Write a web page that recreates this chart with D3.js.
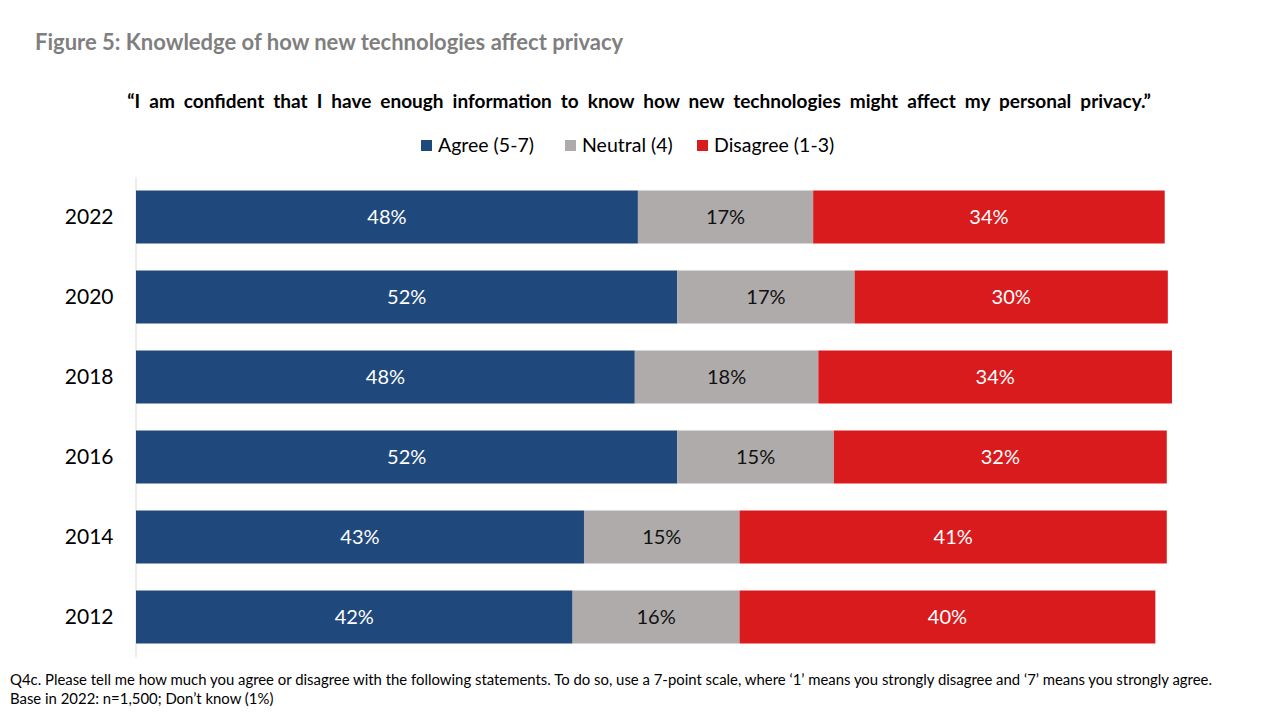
<!DOCTYPE html>
<html>
<head>
<meta charset="utf-8">
<script src="https://cdn.jsdelivr.net/npm/d3@7"></script>
<style>
  body { margin: 0; background: #fff; }
  svg { font-family: Lato, "Open Sans", sans-serif; }
</style>
</head>
<body>
<svg id="chart"></svg>
<script>
// chart data
var years = ["2022", "2020", "2018", "2016", "2014", "2012"];
var series = ["Agree (5-7)", "Neutral (4)", "Disagree (1-3)"];
var agree = [48.4, 52.2, 48.1, 52.2, 43.2, 42.1];
var neutral = [16.9, 17.1, 17.7, 15.1, 15.0, 16.1];
var disagree = [33.9, 30.2, 34.1, 32.1, 41.2, 40.1];
var colors = ["#1f497d", "#aeabaa", "#d91b1e"];
var labelColors = ["#ffffff", "#111111", "#ffffff"];

function init(){
    var width = 1280,
        height = 720;

    var svg = d3.select("svg#chart")
      .attr("width", width)
      .attr("height", height);

    // titles
    svg.append("text")
      .attr("x", 35).attr("y", 50)
      .style("font-size", "22px").style("font-weight", "bold")
      .style("fill", "#7f7f7f")
      .text("Figure 5: Knowledge of how new technologies affect privacy");

    svg.append("text")
      .attr("x", 639).attr("y", 108)
      .attr("text-anchor", "middle")
      .style("font-size", "19px").style("font-weight", "bold")
      .style("word-spacing", "4.4px")
      .style("fill", "#000")
      .text("\u201cI am confident that I have enough information to know how new technologies might affect my personal privacy.\u201d");

    // stack the series
    var rows = years.map(function(y, i){
      return { year: y, s0: agree[i], s1: neutral[i], s2: disagree[i] };
    });
    var stack = d3.stack().keys(["s0", "s1", "s2"]);
    var layers = stack(rows);

    var x = d3.scaleLinear()
      .domain([0, 100])
      .range([136, 1173]);

    var y = d3.scaleBand()
      .domain(years)
      .range([177, 657])
      .paddingInner(0.3375)
      .paddingOuter(0.16875);

    // category axis
    var yAxis = d3.axisLeft(y).tickSize(0).tickPadding(22);
    var ag = svg.append("g")
      .attr("transform", "translate(135.5,0)")
      .call(yAxis);
    ag.select(".domain").attr("stroke", "#d9d9d9");
    ag.selectAll("text")
      .style("font-family", "Lato, sans-serif")
      .style("font-size", "21px")
      .style("fill", "#000");

    var layerG = svg.append("g").selectAll("g")
      .data(layers)
      .enter().append("g")
        .attr("fill", function(d, i){ return colors[i]; });

    layerG.selectAll("rect")
      .data(function(d){ return d; })
      .enter().append("rect")
        .attr("x", function(d){ return x(d[0]); })
        .attr("y", function(d){ return y(d.data.year); })
        .attr("width", function(d){ return x(d[1]) - x(d[0]); })
        .attr("height", y.bandwidth());

    layerG.selectAll("text")
      .data(function(d, i){ return d.map(function(v){ return { v: v, i: i }; }); })
      .enter().append("text")
        .attr("x", function(d){ return (x(d.v[0]) + x(d.v[1])) / 2; })
        .attr("y", function(d){ return y(d.v.data.year) + y.bandwidth() / 2; })
        .attr("dy", "0.36em")
        .attr("text-anchor", "middle")
        .style("font-size", "20px")
        .style("fill", function(d){ return labelColors[d.i]; })
        .text(function(d){ return Math.round(d.v[1] - d.v[0]) + "%"; });

    // legend
    var legendX = [421, 565, 697];
    var lg = svg.append("g").selectAll("g")
      .data(series)
      .enter().append("g")
        .attr("transform", function(d, i){ return "translate(" + legendX[i] + ",140)"; });
    lg.append("rect")
      .attr("width", 11).attr("height", 11)
      .attr("fill", function(d, i){ return colors[i]; });
    lg.append("text")
      .attr("x", 17).attr("y", 12)
      .style("font-size", "19.5px")
      .style("fill", "#000")
      .text(function(d){ return d; });

    // footnote
    var notes = [
      "Q4c. Please tell me how much you agree or disagree with the following statements. To do so, use a 7-point scale, where \u20181\u2019 means you strongly disagree and \u20187\u2019 means you strongly agree.",
      "Base in 2022: n=1,500; Don\u2019t know (1%)"
    ];
    svg.append("g").selectAll("text")
      .data(notes)
      .enter().append("text")
        .attr("x", 10)
        .attr("y", function(d, i){ return 685 + i * 19; })
        .style("font-size", "14.9px")
        .style("fill", "#000")
        .text(function(d){ return d; });
}

init();
</script>
</body>
</html>
